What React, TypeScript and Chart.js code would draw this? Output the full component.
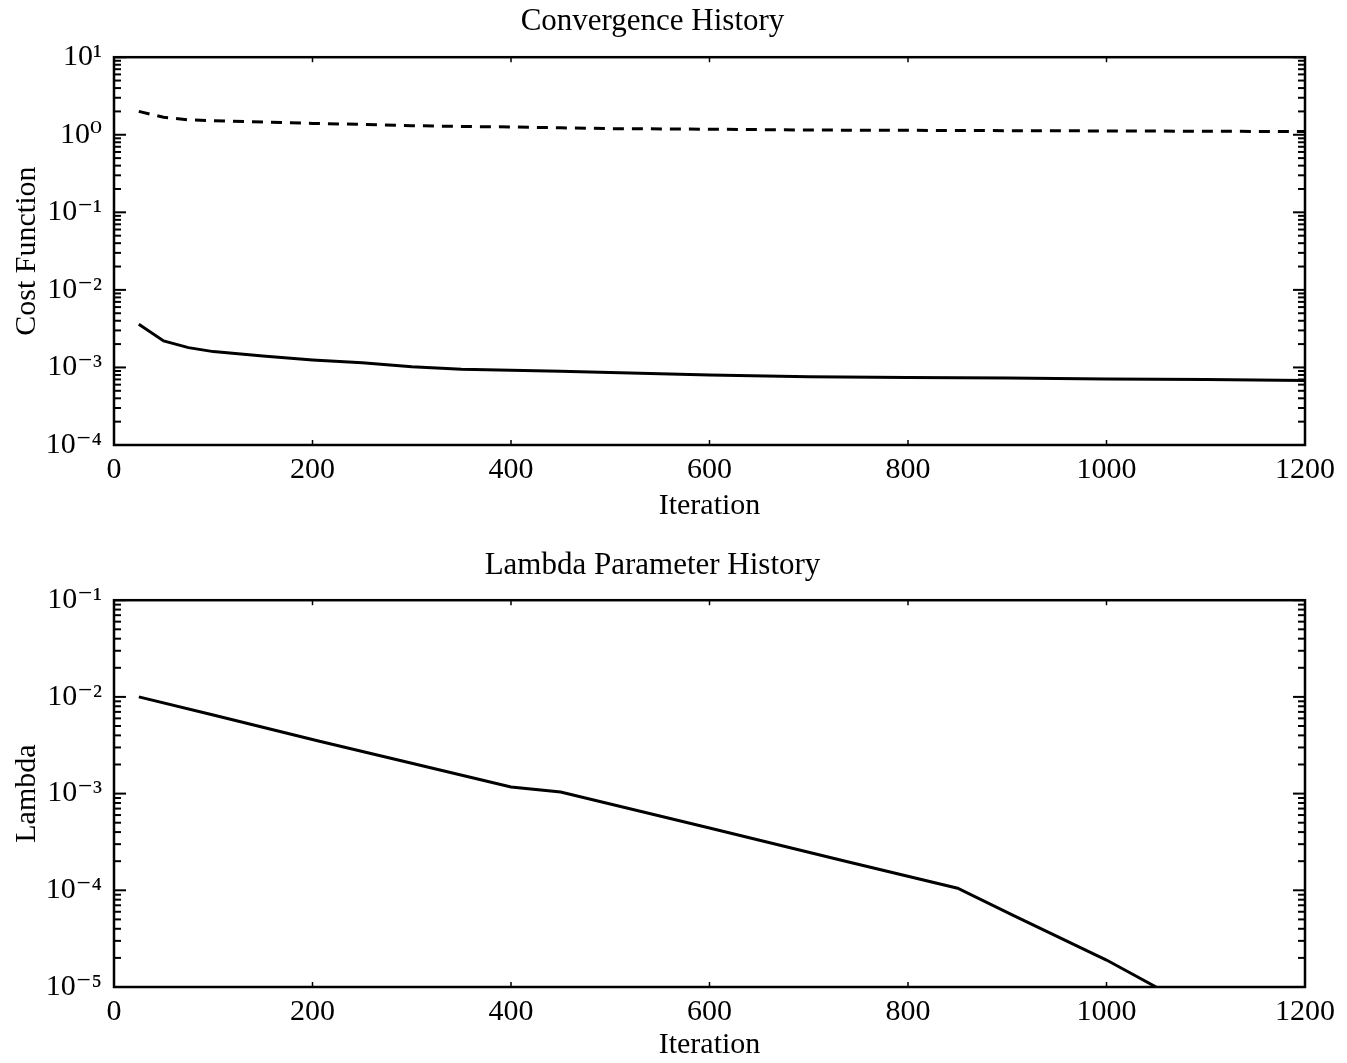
import React, { useEffect, useRef } from "react";
import { Chart, registerables } from "chart.js";

Chart.register(...registerables);

// ---- Data ----
const costIterations = [25, 50, 75, 100, 150, 200, 250, 300, 350, 400, 450, 500, 600, 700, 800, 900, 1000, 1100, 1200];
const costDashed = [2.0, 1.68, 1.56, 1.52, 1.46, 1.4, 1.36, 1.31, 1.28, 1.26, 1.23, 1.2, 1.18, 1.15, 1.14, 1.13, 1.12, 1.11, 1.1];
const costSolid = [3.6e-3, 2.2e-3, 1.8e-3, 1.6e-3, 1.4e-3, 1.25e-3, 1.15e-3, 1.02e-3, 0.95e-3, 0.92e-3, 0.89e-3, 0.86e-3, 0.8e-3, 0.76e-3, 0.74e-3, 0.73e-3, 0.71e-3, 0.7e-3, 0.68e-3];

const lambdaIterations = [25, 100, 206, 300, 400, 450, 600, 737, 850, 906, 1000, 1050];
const lambdaValues = [1e-2, 6.5e-3, 3.5e-3, 2.06e-3, 1.17e-3, 1.04e-3, 4.4e-4, 2.0e-4, 1.05e-4, 5.5e-5, 1.9e-5, 1.0e-5];

const xTicks = [0, 200, 400, 600, 800, 1000, 1200];

const FONT = "'Liberation Serif', 'Times New Roman', 'DejaVu Serif', serif";

const SUP: Record<string, string> = {
  "-": "\u207B", "0": "\u2070", "1": "\u00B9", "2": "\u00B2", "3": "\u00B3",
  "4": "\u2074", "5": "\u2075", "6": "\u2076", "7": "\u2077", "8": "\u2078", "9": "\u2079",
};

function powLabel(v: number): string {
  const e = Math.log10(v);
  const r = Math.round(e);
  if (Math.abs(e - r) > 1e-6) return "";
  return "10" + String(r).split("").map((c) => SUP[c] || c).join("");
}

const framePlugin = {
  id: "frame",
  afterDraw(chart: any) {
    const { ctx, chartArea: a, scales } = chart;
    const xs = scales.x, ys = scales.y;
    ctx.save();
    ctx.strokeStyle = "#000";
    ctx.lineWidth = 2.5;
    ctx.strokeRect(a.left, a.top, a.right - a.left, a.bottom - a.top);
    ctx.lineWidth = 2;
    const seg = (x1: number, y1: number, x2: number, y2: number) => {
      ctx.beginPath();
      ctx.moveTo(x1, y1);
      ctx.lineTo(x2, y2);
      ctx.stroke();
    };
    const minE = Math.floor(Math.log10(ys.min));
    const maxE = Math.ceil(Math.log10(ys.max));
    for (let e = minE; e <= maxE; e++) {
      for (let k = 1; k <= 9; k++) {
        const v = k * Math.pow(10, e);
        if (v < ys.min * 0.999 || v > ys.max * 1.001) continue;
        const py = ys.getPixelForValue(v);
        const len = k === 1 ? 12 : 7;
        seg(a.left, py, a.left + len, py);
        seg(a.right, py, a.right - len, py);
      }
    }
    ctx.lineWidth = 1.5;
    for (const t of xTicks) {
      if (t <= xs.min || t >= xs.max) continue;
      const px = xs.getPixelForValue(t);
      seg(px, a.bottom, px, a.bottom - 5);
      seg(px, a.top, px, a.top + 5);
    }
    ctx.restore();
  },
};

function makeOptions(title: string, yTitle: string, yMin: number, yMax: number, titlePad: { top: number; bottom: number }, xBox: number, xTitleBottom: number) {
  return {
    animation: false,
    responsive: false,
    devicePixelRatio: 1,
    layout: { padding: { left: 0, right: 42, top: 0, bottom: 0 } },
    plugins: {
      legend: { display: false },
      tooltip: { enabled: false },
      title: {
        display: true,
        text: title,
        color: "#000",
        font: { family: FONT, size: 31, weight: "normal", lineHeight: 1.2 },
        padding: titlePad,
      },
    },
    elements: { point: { radius: 0 }, line: { tension: 0 } },
    scales: {
      x: {
        type: "linear",
        min: 0,
        max: 1200,
        grid: { display: false, drawTicks: false },
        border: { display: false },
        ticks: {
          stepSize: 200,
          color: "#000",
          padding: 7,
          font: { family: FONT, size: 30 },
          maxRotation: 0,
          callback: (v: any) => String(v),
        },
        title: {
          display: true,
          text: "Iteration",
          color: "#000",
          font: { family: FONT, size: 30 },
          padding: { top: 0, bottom: xTitleBottom },
        },
        afterFit: (s: any) => {
          s.height = xBox;
        },
      },
      y: {
        type: "logarithmic",
        min: yMin,
        max: yMax,
        grid: { display: false, drawTicks: false },
        border: { display: false },
        ticks: {
          color: "#000",
          padding: 12,
          autoSkip: false,
          font: { family: FONT, size: 30 },
          callback: (v: any) => powLabel(Number(v)),
        },
        title: {
          display: true,
          text: yTitle,
          color: "#000",
          font: { family: FONT, size: 30 },
          padding: { top: 9, bottom: 0 },
        },
        afterFit: (s: any) => {
          s.width = 114;
        },
      },
    },
  };
}

function CostChart() {
  const ref = useRef<HTMLCanvasElement>(null);
  useEffect(() => {
    if (!ref.current) return;
    const chart = new Chart(ref.current, {
      type: "line",
      data: {
        datasets: [
          {
            label: "Cost (dashed)",
            data: costIterations.map((x, i) => ({ x, y: costDashed[i] })),
            borderColor: "#000",
            borderWidth: 3,
            borderDash: [11, 8],
            pointRadius: 0,
            fill: false,
          },
          {
            label: "Cost (solid)",
            data: costIterations.map((x, i) => ({ x, y: costSolid[i] })),
            borderColor: "#000",
            borderWidth: 3,
            pointRadius: 0,
            fill: false,
          },
        ],
      },
      options: makeOptions("Convergence History", "Cost Function", 1e-4, 10, { top: 3, bottom: 17 }, 86, 7) as any,
      plugins: [framePlugin],
    });
    return () => chart.destroy();
  }, []);
  return <canvas ref={ref} width={1347} height={531} style={{ display: "block", width: 1347, height: 531 }} />;
}

function LambdaChart() {
  const ref = useRef<HTMLCanvasElement>(null);
  useEffect(() => {
    if (!ref.current) return;
    const chart = new Chart(ref.current, {
      type: "line",
      data: {
        datasets: [
          {
            label: "Lambda",
            data: lambdaIterations.map((x, i) => ({ x, y: lambdaValues[i] })),
            borderColor: "#000",
            borderWidth: 3,
            pointRadius: 0,
            fill: false,
          },
        ],
      },
      options: makeOptions("Lambda Parameter History", "Lambda", 1e-5, 1e-1, { top: 16, bottom: 16 }, 76, 0) as any,
      plugins: [framePlugin],
    });
    return () => chart.destroy();
  }, []);
  return <canvas ref={ref} width={1347} height={532} style={{ display: "block", width: 1347, height: 532 }} />;
}

export default function App() {
  return (
    <div style={{ position: "absolute", left: 0, top: 0, width: 1347, height: 1063, background: "#fff", overflow: "hidden" }}>
      <CostChart />
      <LambdaChart />
    </div>
  );
}
